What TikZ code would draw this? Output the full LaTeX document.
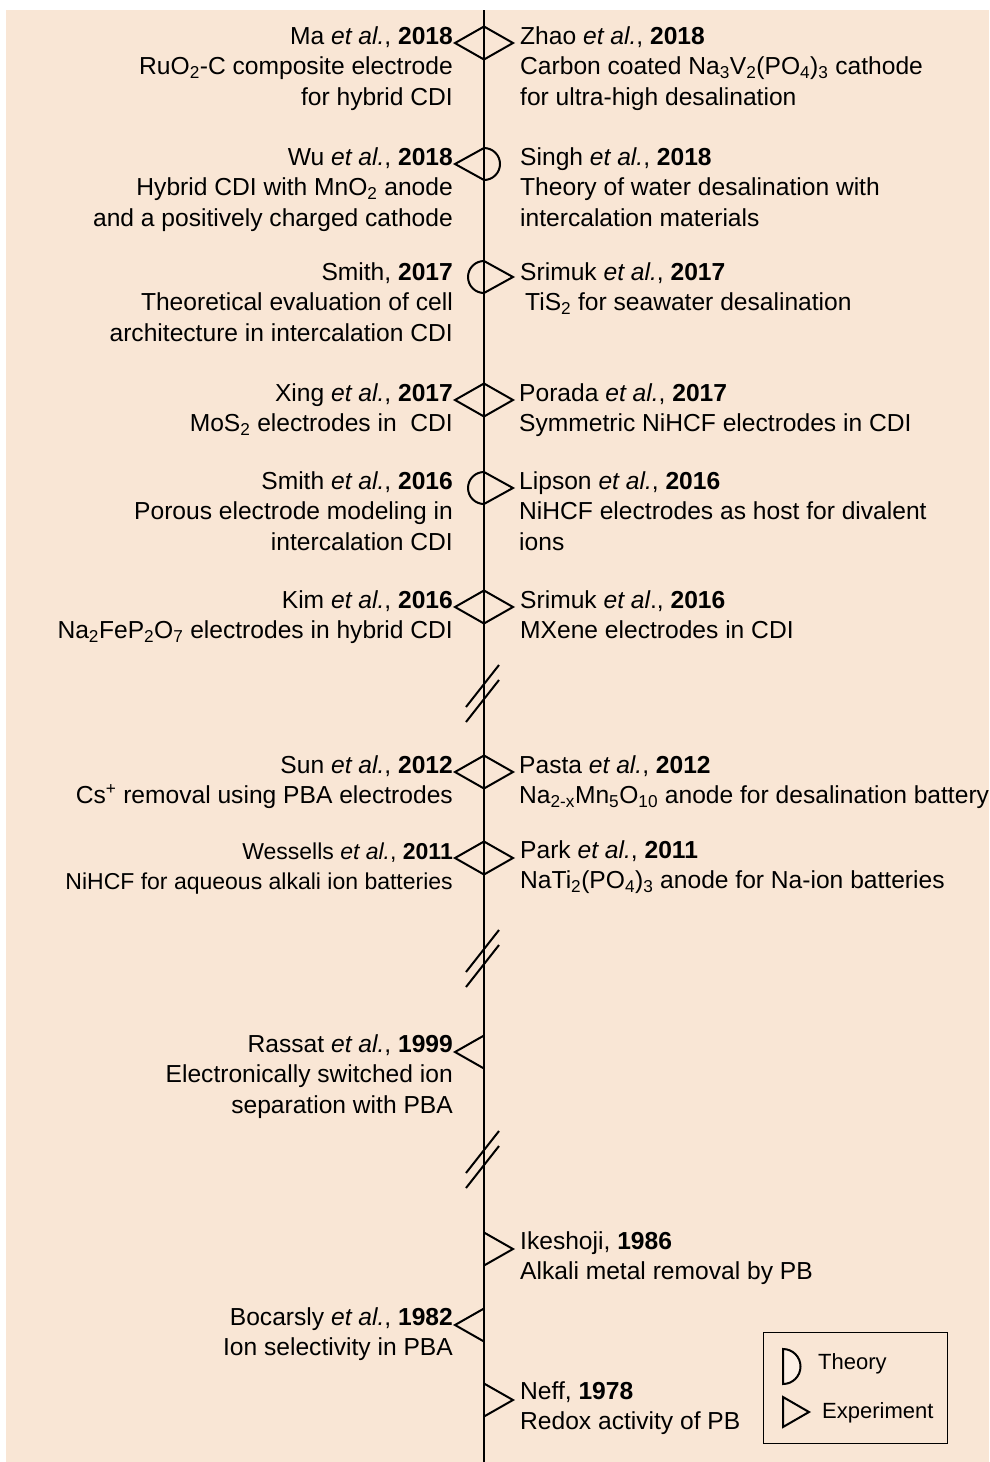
\documentclass[tikz,border=0pt]{standalone}
\usepackage{fontspec}
\setmainfont{Liberation Sans}
\usetikzlibrary{positioning}
\definecolor{peach}{RGB}{249,230,213}
\definecolor{legfill}{RGB}{253,240,230}
\tikzstyle{leftref}=[anchor=base east, align=right, inner sep=0pt]
\tikzstyle{rightref}=[anchor=base west, align=left, inner sep=0pt]
\tikzstyle{timeline}=[line width=2.2pt]
\tikzstyle{symb}=[line width=2pt, line join=miter]
\tikzstyle{breakmark}=[line width=2pt]
\tikzstyle{legtext}=[anchor=base west, inner sep=0pt, font=\fontsize{22}{26}\selectfont]

\begin{document}
\begin{tikzpicture}[x=1pt, y=-1pt, font=\fontsize{24.6}{30.7}\selectfont]
    \useasboundingbox (0,0) rectangle (989,1462);
    \fill[peach] (6,10) rectangle (989,1462);

    % time axis
    \coordinate (top) at (484,10);
    \coordinate (bot) at (484,1462);
    \draw[timeline] (top) -- (bot);

    % markers
    \coordinate (c1) at (484,43);
    \coordinate (c2) at (484,164);
    \coordinate (c3) at (484,277);
    \coordinate (c4) at (484,400);
    \coordinate (c5) at (484,488);
    \coordinate (c6) at (484,607);
    \coordinate (c7) at (484,772);
    \coordinate (c8) at (484,858);
    \coordinate (c9) at (484,1052);
    \coordinate (c10) at (484,1249);
    \coordinate (c11) at (484,1325);
    \coordinate (c12) at (484,1400);

    \draw[symb] (c1) ++(0,-16.5) -- ++(-29,16.5) -- ++(29,16.5);
    \draw[symb] (c1) ++(0,-16.5) -- ++(29,16.5) -- ++(-29,16.5);
    \draw[symb] (c2) ++(0,-16) -- ++(-29,16) -- ++(29,16);
    \draw[symb] (c2) ++(0,-16) arc[start angle=90, end angle=-90, radius=16pt];
    \draw[symb] (c3) ++(0,-16) arc[start angle=90, end angle=270, radius=16pt];
    \draw[symb] (c3) ++(0,-16) -- ++(29,16) -- ++(-29,16);
    \draw[symb] (c4) ++(0,-16.5) -- ++(-29,16.5) -- ++(29,16.5);
    \draw[symb] (c4) ++(0,-16.5) -- ++(29,16.5) -- ++(-29,16.5);
    \draw[symb] (c5) ++(0,-16) arc[start angle=90, end angle=270, radius=16pt];
    \draw[symb] (c5) ++(0,-16) -- ++(29,16) -- ++(-29,16);
    \draw[symb] (c6) ++(0,-16.5) -- ++(-29,16.5) -- ++(29,16.5);
    \draw[symb] (c6) ++(0,-16.5) -- ++(29,16.5) -- ++(-29,16.5);
    \draw[symb] (c7) ++(0,-16.5) -- ++(-29,16.5) -- ++(29,16.5);
    \draw[symb] (c7) ++(0,-16.5) -- ++(29,16.5) -- ++(-29,16.5);
    \draw[symb] (c8) ++(0,-16.5) -- ++(-29,16.5) -- ++(29,16.5);
    \draw[symb] (c8) ++(0,-16.5) -- ++(29,16.5) -- ++(-29,16.5);
    \draw[symb] (c9) ++(0,-16.5) -- ++(-29,16.5) -- ++(29,16.5);
    \draw[symb] (c10) ++(0,-16.5) -- ++(29,16.5) -- ++(-29,16.5);
    \draw[symb] (c11) ++(0,-16.5) -- ++(-29,16.5) -- ++(29,16.5);
    \draw[symb] (c12) ++(0,-16.5) -- ++(29,16.5) -- ++(-29,16.5);

    % axis breaks
    \draw[breakmark] (466,707) -- (499,665);
    \draw[breakmark] (466,722) -- (499,680);
    \draw[breakmark] (466,972) -- (499,930);
    \draw[breakmark] (466,987) -- (499,945);
    \draw[breakmark] (466,1173) -- (499,1131);
    \draw[breakmark] (466,1188) -- (499,1146);

    % left column (anchored at the last line)
    \node[leftref] (ma) at (453,105.4) {Ma \textit{et al.}, \textbf{2018}\\RuO\textsubscript{2}-C composite electrode\\for hybrid CDI};
    \node[leftref] (wu) at (453,226.4) {Wu \textit{et al.}, \textbf{2018}\\Hybrid CDI with MnO\textsubscript{2} anode\\and a positively charged cathode};
    \node[leftref] (smith17) at (453,341.4) {Smith, \textbf{2017}\\Theoretical evaluation of cell\\architecture in intercalation CDI};
    \node[leftref] (xing) at (453,431.7) {Xing \textit{et al.}, \textbf{2017}\\MoS\textsubscript{2} electrodes in\ \ CDI\hspace{4pt}};
    \node[leftref] (smith16) at (453,550.4) {Smith \textit{et al.}, \textbf{2016}\\Porous electrode modeling in\hspace{2pt}\\intercalation CDI\hspace{2pt}};
    \node[leftref] (kim) at (453,638.7) {Kim \textit{et al.}, \textbf{2016}\\Na\textsubscript{2}FeP\textsubscript{2}O\textsubscript{7} electrodes in hybrid CDI\hspace{8pt}};
    \node[leftref] (sun) at (453,803.7) {Sun \textit{et al.}, \textbf{2012}\\Cs\textsuperscript{+} removal using PBA electrodes};
    \node[leftref, font=\fontsize{23}{30.7}\selectfont] (wessells) at (453,889.7) {Wessells \textit{et al.}, \textbf{2011}\\NiHCF for aqueous alkali ion batteries};
    \node[leftref] (rassat) at (453,1113.4) {Rassat \textit{et al.}, \textbf{1999}\\Electronically switched ion\\separation with PBA\hspace{4pt}};
    \node[leftref] (bocarsly) at (453,1355.7) {Bocarsly \textit{et al.}, \textbf{1982}\\Ion selectivity in PBA\hspace{7pt}};

    % right column
    \node[rightref] (zhao) at (520,105.4) {Zhao \textit{et al.}, \textbf{2018}\\Carbon coated Na\textsubscript{3}V\textsubscript{2}(PO\textsubscript{4})\textsubscript{3} cathode\\for ultra-high desalination};
    \node[rightref] (singh) at (520,226.4) {Singh \textit{et al.}, \textbf{2018}\\Theory of water desalination with\\intercalation materials};
    \node[rightref] (srimuk17) at (520,310.7) {Srimuk \textit{et al.}, \textbf{2017}\\\hspace{5pt}TiS\textsubscript{2} for seawater desalination};
    \node[rightref] (porada) at (519,431.7) {Porada \textit{et al.}, \textbf{2017}\\Symmetric NiHCF electrodes in CDI};
    \node[rightref] (lipson) at (519,550.4) {Lipson \textit{et al.}, \textbf{2016}\\NiHCF electrodes as host for divalent\\ions};
    \node[rightref] (srimuk16) at (520,638.7) {Srimuk \textit{et al}., \textbf{2016}\\MXene electrodes in CDI};
    \node[rightref] (pasta) at (519,803.7) {Pasta \textit{et al.}, \textbf{2012}\\Na\textsubscript{2-x}Mn\textsubscript{5}O\textsubscript{10} anode for desalination battery};
    \node[rightref] (park) at (520,888.7) {Park \textit{et al.}, \textbf{2011}\\NaTi\textsubscript{2}(PO\textsubscript{4})\textsubscript{3} anode for Na-ion batteries};
    \node[rightref] (ikeshoji) at (520,1279.7) {Ikeshoji, \textbf{1986}\\Alkali metal removal by PB};
    \node[rightref] (neff) at (520,1429.7) {Neff, \textbf{1978}\\Redox activity of PB};

    % legend
    \node[draw, line width=1.3pt, minimum width=184pt, minimum height=111pt, anchor=north west] (legbox) at (763,1332) {};
    \draw[symb, fill=legfill] (783,1349) arc[start angle=90, end angle=-90, radius=17.5pt] -- cycle;
    \draw[symb] (783,1397) -- (809,1412) -- (783,1427) -- cycle;
    \node[legtext] (theory) at (818,1369) {Theory};
    \node[legtext] (experiment) at (822,1418) {Experiment};
\end{tikzpicture}
\end{document}
